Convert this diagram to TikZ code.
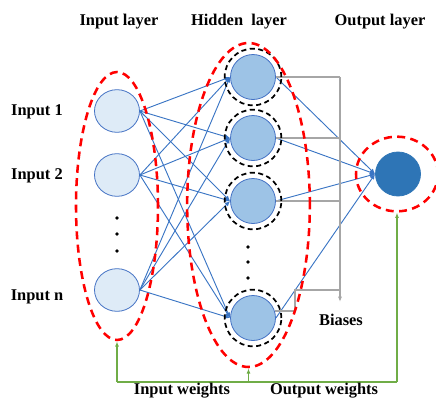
\documentclass[tikz,border=0pt]{standalone}
\usepackage{fontspec}
\setmainfont{Liberation Serif}
\usetikzlibrary{shapes.geometric,arrows.meta}

\definecolor{inputfill}{HTML}{DEEBF7}
\definecolor{hiddenfill}{HTML}{9DC3E6}
\definecolor{outputfill}{HTML}{2E75B6}
\definecolor{nodeline}{HTML}{4472C4}
\definecolor{linkblue}{HTML}{3A75C4}
\definecolor{biasgray}{HTML}{A6A6A6}
\definecolor{weightgreen}{HTML}{70AD47}

\begin{document}
\begin{tikzpicture}[
    x=0.75pt, y=-0.75pt,
    neuron/.style={
        ellipse,
        draw=nodeline,
        line width=0.6pt,
        inner sep=0pt,
        minimum width=33.75pt,
        minimum height=32pt
    },
    ring/.style={
        circle,
        draw=black,
        line width=1.3pt,
        dash pattern=on 3.8pt off 2.6pt,
        inner sep=0pt,
        minimum size=42.5pt
    },
    group/.style={
        ellipse,
        draw=red,
        line width=1.9pt,
        dash pattern=on 6pt off 4pt,
        inner sep=0pt
    },
    link/.style={draw=linkblue, line width=0.7pt, -{Latex[length=4pt,width=3.5pt]}},
    bias/.style={draw=biasgray, line width=1.1pt},
    weight/.style={draw=weightgreen, line width=1.1pt},
    title/.style={font=\fontsize{12.3}{14}\selectfont\bfseries}
]
\useasboundingbox (0,0) rectangle (436,400);

% neurons
\node[neuron, fill=inputfill] (in1) at (117,111) {};
\node[neuron, fill=inputfill] (in2) at (117,175) {};
\node[neuron, fill=inputfill] (inn) at (117,290) {};

\node[neuron, fill=hiddenfill, minimum height=33.75pt] (h1) at (253,77) {};
\node[neuron, fill=hiddenfill, minimum height=33.75pt] (h2) at (253,138) {};
\node[neuron, fill=hiddenfill, minimum height=33.75pt] (h3) at (253,201) {};
\node[neuron, fill=hiddenfill, minimum height=33.75pt] (h4) at (253,318) {};

\node[neuron, draw=outputfill, fill=outputfill, minimum height=33pt] (out) at (398,174) {};

\foreach \y in {218,234,251} \fill (117,\y) circle (1.4pt);
\foreach \y in {247,262,278} \fill (248,\y) circle (1.4pt);

% weights
\foreach \i in {in1,in2,inn}
    \foreach \h in {h1,h2,h3,h4}
        \draw[link] (\i.east) -- (\h.west);
\foreach \h in {h1,h2,h3,h4}
    \draw[link] (\h.east) -- (out.west);

% biases
\coordinate (biastop) at (340,77);
\coordinate (biasend) at (340,302);
\coordinate (biasknee) at (295,290);
\draw[bias] (h1.east) -- (biastop);
\draw[bias] (h2.east) -- (h2.east -| biastop);
\draw[bias] (h3.east) -- (h3.east -| biastop);
\draw[bias] (h4.18) -| (biasknee) -- (biasknee -| biastop);
\draw[bias, -{Latex[length=4pt,width=3pt]}] (biastop) -- (biasend);

% rings and layers
\foreach \h in {h1,h2,h3,h4}
    \node[ring] at (\h) {};
\node[group, minimum width=61.5pt, minimum height=201pt] (ingroup) at (117,206) {};
\node[group, minimum width=92pt, minimum height=243pt] (hidgroup) at (248.5,205) {};
\node[group, minimum width=61.5pt, minimum height=56pt] (outgroup) at (397,174) {};

% training arrows
\coordinate (wl) at (117,382);
\coordinate (wr) at (397,382);
\draw[weight] (wl) -- (wr);
\draw[weight, -{Latex[length=4pt,width=3pt]}] (wl) -- (ingroup.south);
\draw[weight, -{Latex[length=4pt,width=3pt]}] (hidgroup.south |- wl) -- (hidgroup.south);
\draw[weight, -{Latex[length=4pt,width=3pt]}] (wr) -- (outgroup.south);

% labels
\node[title] (tin) at (119,22) {Input layer};
\node[title] (thid) at (239,22) {Hidden\ \ layer};
\node[title] (tout) at (380,22) {Output layer};
\node[title] (lin1) at (37,112) {Input 1};
\node[title] (lin2) at (37,176) {Input 2};
\node[title] (linn) at (37,297) {Input n};
\node[title] (tbias) at (341,320) {Biases};
\node[title] (twin) at (182,391) {Input weights};
\node[title] (twout) at (324,391) {Output weights};

\end{tikzpicture}
\end{document}
